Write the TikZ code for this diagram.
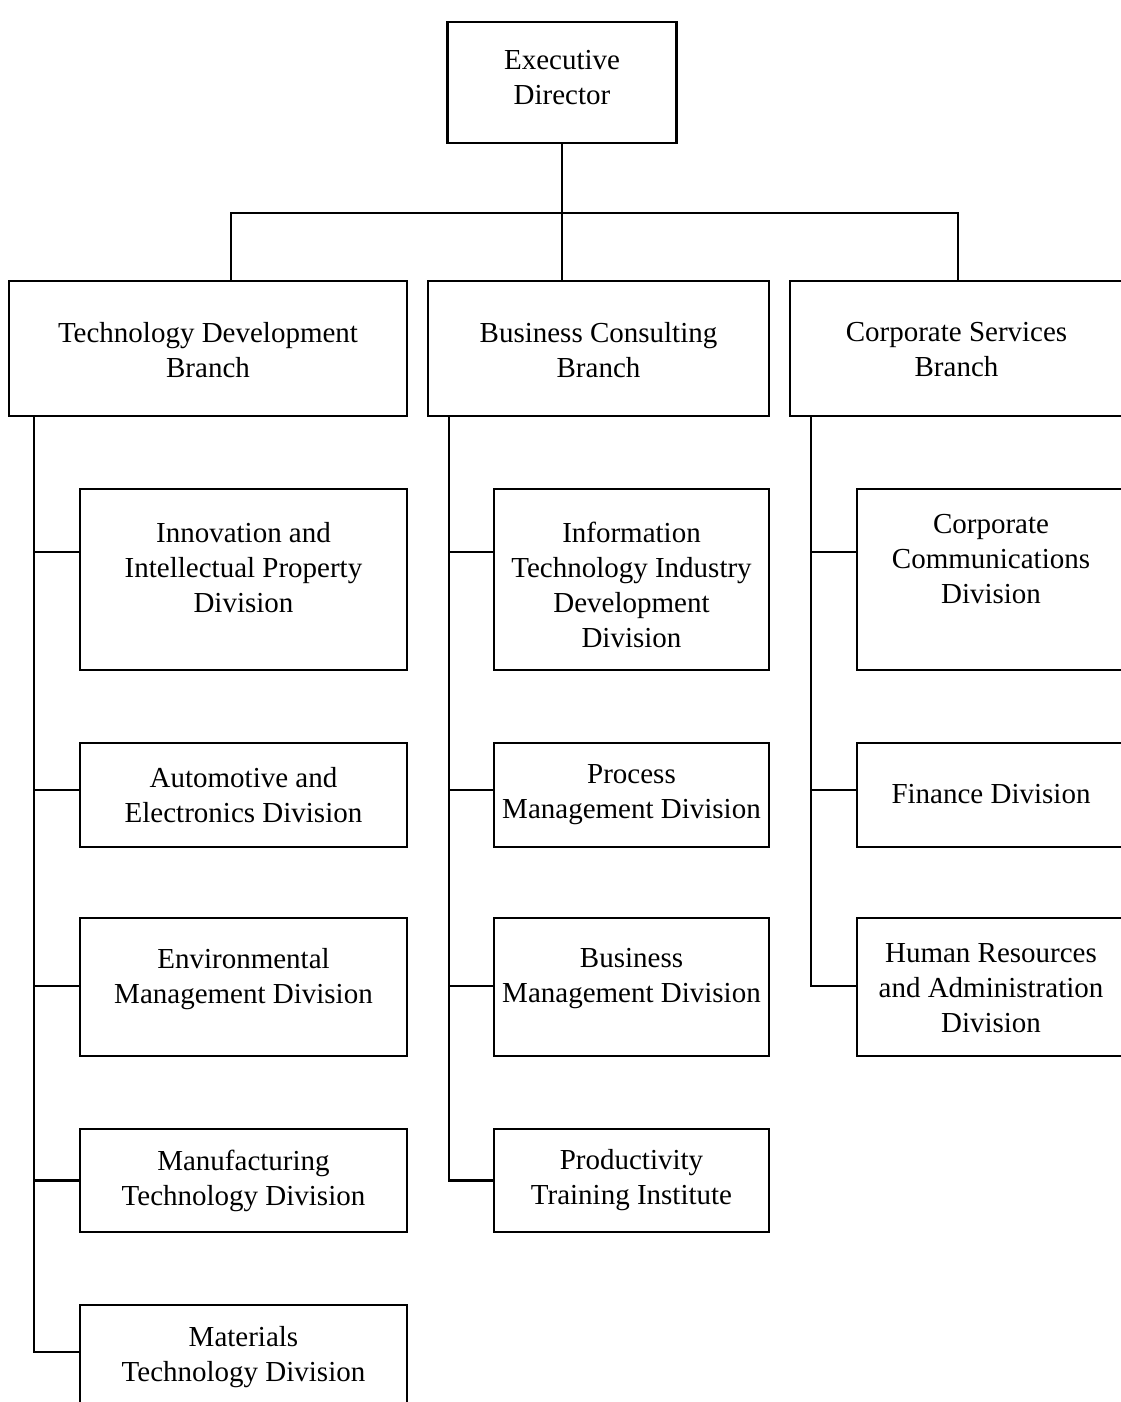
\documentclass[tikz,border=0pt]{standalone}
\usepackage{fontspec}
\setmainfont{Liberation Serif}
\usepackage{tikz}

\tikzset{
  box/.style={draw, line width=2.5pt, inner sep=0pt},
  txt/.style={align=center, inner sep=0pt, font=\fontsize{29}{35}\selectfont},
  link/.style={line width=2.5pt}
}

\begin{document}
\begin{tikzpicture}[x=1pt, y=-1pt]

        \useasboundingbox (0,0) rectangle (1121,1402);
        \clip (0,0) rectangle (1121,1402);

        % top of the chart
        \node[box, minimum width=229, minimum height=121,
              label={[txt, yshift=5]center:{Executive\\Director}}] (exec) at (562,82.5) {};

        \node[box, minimum width=398, minimum height=135,
              label={[txt, yshift=-1.5]center:{Technology Development\\Branch}}] (tdb) at (208,348.5) {};
        \node[box, minimum width=341, minimum height=135,
              label={[txt, yshift=-1.5]center:{Business Consulting\\Branch}}] (bcb) at (598.5,348.5) {};
        \node[box, minimum width=333, minimum height=135,
              label={[txt, yshift=-1.5]center:{Corporate Services\\Branch}}] (csb) at (956.5,348.5) {};

        % technology divisions
        \node[box, minimum width=327, minimum height=181,
              label={[txt, yshift=12]center:{Innovation and\\Intellectual Property\\Division}}] (innov) at (243.5,579.5) {};
        \node[box, minimum width=327, minimum height=104,
              label={[txt]center:{Automotive and\\Electronics Division}}] (auto) at (243.5,795) {};
        \node[box, minimum width=327, minimum height=138,
              label={[txt, yshift=8]center:{Environmental\\Management Division}}] (env) at (243.5,987) {};
        \node[box, minimum width=327, minimum height=103,
              label={[txt]center:{Manufacturing\\Technology Division}}] (manuf) at (243.5,1180.5) {};
        \node[box, minimum width=327, minimum height=104,
              label={[txt]center:{Materials\\Technology Division}}] (matl) at (243.5,1357) {};

        % consulting divisions
        \node[box, minimum width=275, minimum height=181,
              label={[txt, yshift=-5.5]center:{Information\\Technology Industry\\Development\\Division}}] (itid) at (631.5,579.5) {};
        \node[box, minimum width=275, minimum height=104,
              label={[txt]center:{Process\\Management Division}}] (pmd) at (631.5,795) {};
        \node[box, minimum width=275, minimum height=138,
              label={[txt, yshift=8]center:{Business\\Management Division}}] (bmd) at (631.5,987) {};
        \node[box, minimum width=275, minimum height=103,
              label={[txt]center:{Productivity\\Training Institute}}] (pti) at (631.5,1180.5) {};

        % corporate divisions
        \node[box, minimum width=268, minimum height=181,
              label={[txt, yshift=20]center:{Corporate\\Communications\\Division}}] (ccd) at (991,579.5) {};
        \node[box, minimum width=268, minimum height=104,
              label={[txt, yshift=1]center:{Finance Division}}] (fin) at (991,795) {};
        \node[box, minimum width=268, minimum height=138,
              label={[txt, yshift=-1.5]center:{Human Resources\\and Administration\\Division}}] (hrad) at (991,987) {};

        % director to branches
        \coordinate (bus) at (562,213);
        \draw[link] (exec.south) -- (bcb.north -| bus);
        \draw[link] ([xshift=23]tdb.north) |- (bus) -| ([xshift=1.5]csb.north);

        % branch spines, then one stub per division
        \coordinate (tspine) at ([xshift=26]tdb.south west);
        \coordinate (bspine) at ([xshift=22]bcb.south west);
        \coordinate (cspine) at ([xshift=22]csb.south west);

        \draw[link] (tspine) |- ([yshift=5]matl.west);
        \draw[link] (bspine) |- (pti.west);
        \draw[link] (cspine) |- ([yshift=1]hrad.west);

        \foreach \n/\s in {innov/27.5, auto/5, env/1, manuf/0}
            \draw[link] ([yshift=\s]\n.west) -- ([yshift=\s]\n.west -| tspine);
        \foreach \n/\s in {itid/27.5, pmd/5, bmd/1}
            \draw[link] ([yshift=\s]\n.west) -- ([yshift=\s]\n.west -| bspine);
        \foreach \n/\s in {ccd/27.5, fin/5}
            \draw[link] ([yshift=\s]\n.west) -- ([yshift=\s]\n.west -| cspine);

        % Grid
        %\draw[help lines] (0,0) grid[step=100] (1121,1402);
    \end{tikzpicture}
\end{document}
